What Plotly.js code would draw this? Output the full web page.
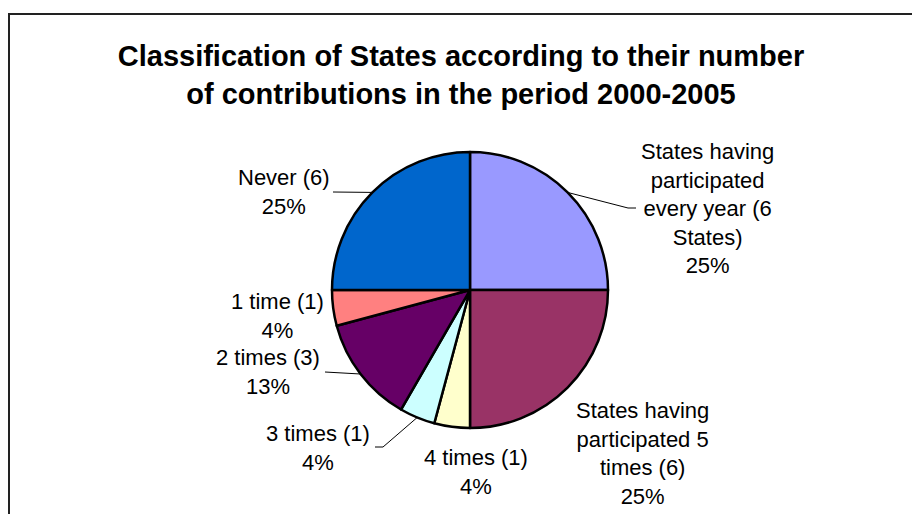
<!DOCTYPE html>
<html>
<head>
<meta charset="utf-8">
<script src="https://cdn.plot.ly/plotly-3.0.1.min.js"></script>
<style>html,body{margin:0;padding:0;background:#fff;}#chart{width:912px;height:514px;}</style>
</head>
<body>
<div id="chart"></div>
<script>
// ---- data ----
const categories = [
  "States having participated every year (6 States)",
  "States having participated 5 times (6)",
  "4 times (1)",
  "3 times (1)",
  "2 times (3)",
  "1 time (1)",
  "Never (6)"
];
const counts = [6, 6, 1, 1, 3, 1, 6];
const labelLines = [
  ["States having", "participated", "every year (6", "States)"],
  ["States having", "participated 5", "times (6)"],
  ["4 times (1)"],
  ["3 times (1)"],
  ["2 times (3)"],
  ["1 time (1)"],
  ["Never (6)"]
];
const colors = ["#9999FF", "#993366", "#FFFFCC", "#CCFFFF", "#660066", "#FF8080", "#0066CC"];

// ---- layout geometry (pixels) ----
const W = 912, H = 514;
const CX = 470, CY = 290, R = 138;
const FONT = "Liberation Sans, Arial, sans-serif";
const labelPos = [
  {x: 707, y: 208}, {x: 642, y: 453}, {x: 476, y: 472}, {x: 318, y: 448},
  {x: 268, y: 372}, {x: 277, y: 316}, {x: 284, y: 192}
];
// leader line label-side points (null = no leader)
const leaderEnds = [
  [[628, 208], [636, 208]],
  null, null,
  [[383, 447], [375, 447]],
  [[325, 372]],
  null,
  [[333, 192]]
];

const px = x => x / W;
const py = y => 1 - y / H;

const total = counts.reduce((a, b) => a + b, 0);
const pct = counts.map(c => Math.round(c / total * 100) + "%");

// mid-angle edge points computed from data (clockwise from 12 o'clock)
let cum = 0;
const edgePts = counts.map(c => {
  const mid = (cum + c / 2) / total * 2 * Math.PI;
  cum += c;
  return [CX + R * Math.sin(mid), CY - R * Math.cos(mid)];
});

const annotations = categories.map((cat, i) => ({
  text: labelLines[i].concat([pct[i]]).join("<br>"),
  x: px(labelPos[i].x), y: py(labelPos[i].y),
  xref: "paper", yref: "paper", xanchor: "center", yanchor: "middle",
  showarrow: false, align: "center",
  font: {family: FONT, size: 22, color: "#000"}
}));

const shapes = [{
  type: "rect", xref: "paper", yref: "paper",
  x0: px(9), x1: px(W + 10), y0: py(H + 10), y1: py(14),
  line: {color: "#222", width: 2}, fillcolor: "rgba(0,0,0,0)"
}];
leaderEnds.forEach((pts, i) => {
  if (!pts) return;
  const all = [edgePts[i]].concat(pts);
  let d = "";
  all.forEach((p, k) => { d += (k ? " L " : "M ") + px(p[0]) + "," + py(p[1]); });
  shapes.push({type: "path", xref: "paper", yref: "paper", path: d,
    line: {color: "#000", width: 1}});
});

const trace = {
  type: "pie",
  labels: categories,
  values: counts,
  sort: false,
  direction: "clockwise",
  rotation: 0,
  textinfo: "none",
  hoverinfo: "label+percent",
  marker: {colors: colors, line: {color: "#000", width: 2.5}},
  domain: {x: [px(CX - R), px(CX + R)], y: [py(CY + R), py(CY - R)]},
  showlegend: false
};

const layout = {
  width: W, height: H,
  margin: {l: 0, r: 0, t: 0, b: 0},
  paper_bgcolor: "#fff",
  showlegend: false,
  title: {
    text: "<b>Classification of States according to their number<br>of contributions in the period 2000-2005</b>",
    x: 461 / W, xanchor: "center", xref: "paper",
    y: 1 - 66 / H, yanchor: "middle", yref: "container",
    font: {family: FONT, size: 29, color: "#000"}
  },
  annotations: annotations,
  shapes: shapes
};

Plotly.newPlot("chart", [trace], layout, {displayModeBar: false, staticPlot: true});
</script>
</body>
</html>
